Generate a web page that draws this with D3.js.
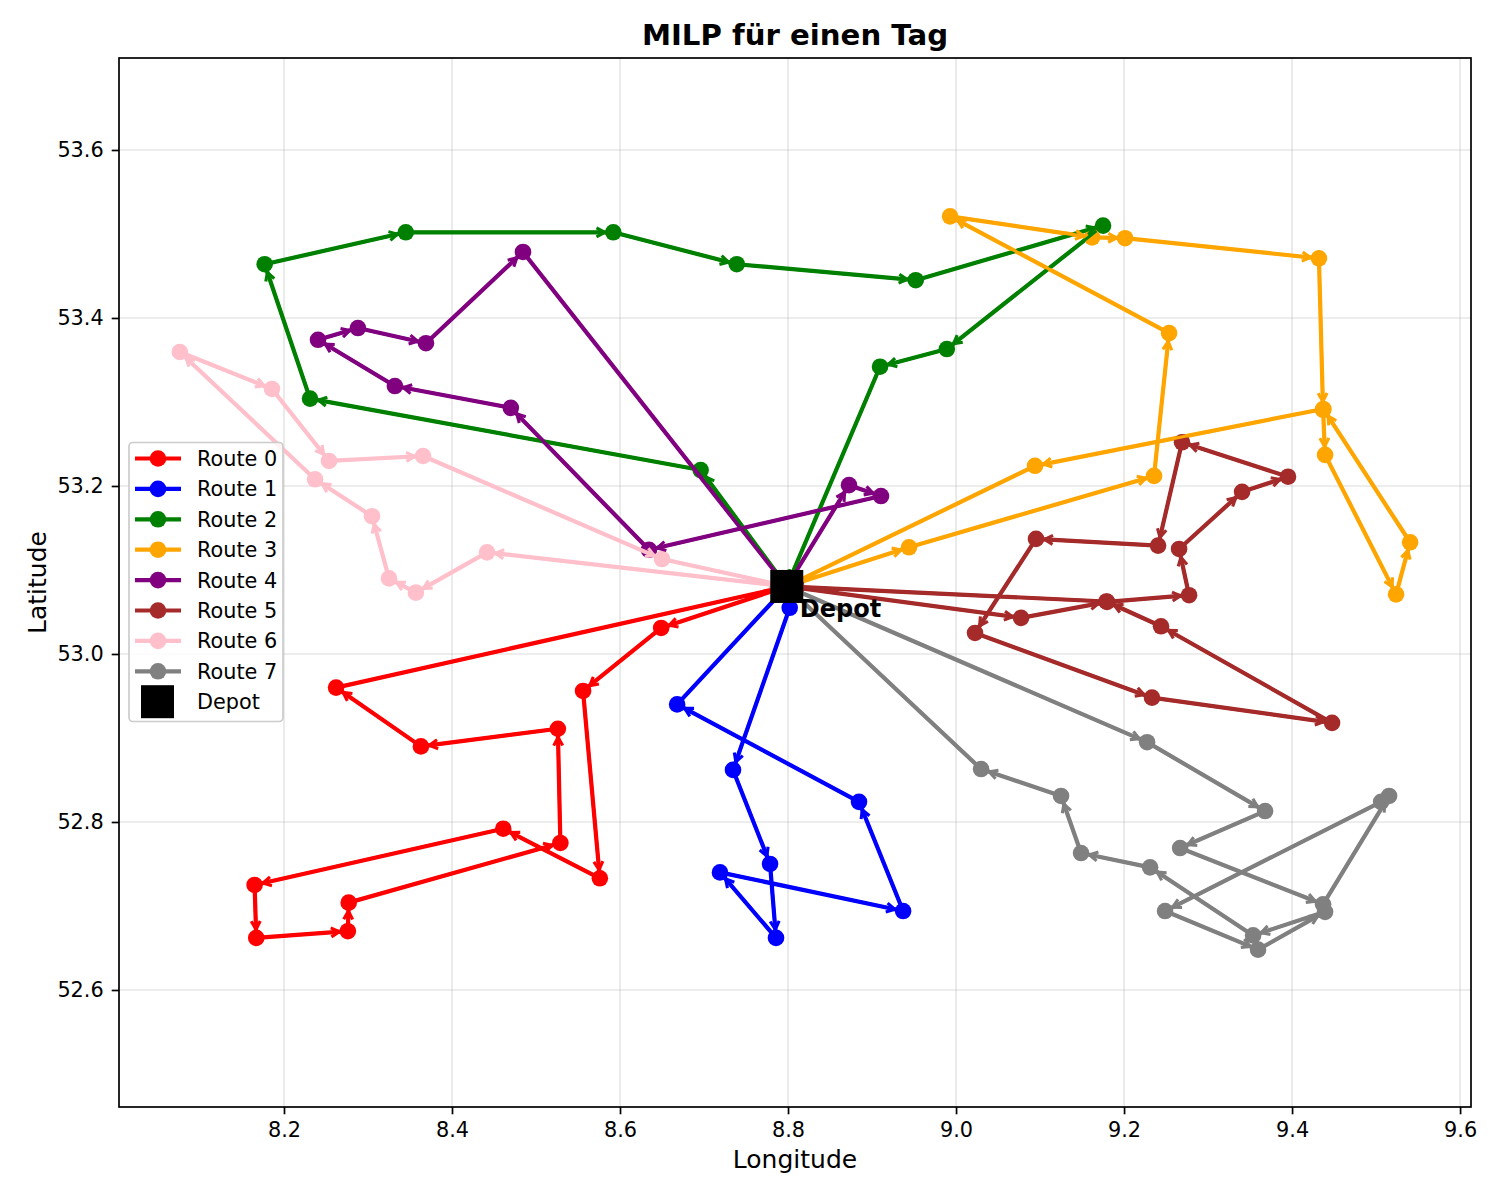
<!DOCTYPE html>
<html><head><meta charset="utf-8">
<script src="https://cdn.jsdelivr.net/npm/d3@7"></script>
<style>body{margin:0;background:#fff} text{font-family:"DejaVu Sans",sans-serif;fill:#000}</style>
</head><body><svg id="chart" width="1500" height="1200"></svg>
<script>
// ---- data (longitude, latitude) ----
const depot = [8.7985, 53.0804];
const routeNames = ["Route 0","Route 1","Route 2","Route 3","Route 4","Route 5","Route 6","Route 7"];
const routeColors = ["red","blue","green","orange","purple","brown","pink","gray"];
const route0 = [[8.649,53.031],[8.556,52.956],[8.576,52.733],[8.461,52.792],[8.165,52.725],[8.167,52.662],[8.276,52.670],[8.277,52.704],[8.529,52.775],[8.526,52.911],[8.363,52.890],[8.262,52.960]];
const route1 = [[8.802,53.055],[8.7345,52.862],[8.7786,52.750],[8.7857,52.662],[8.719,52.740],[8.937,52.694],[8.8845,52.824],[8.668,52.940]];
const route2 = [[8.696,53.219],[8.231,53.304],[8.177,53.464],[8.345,53.502],[8.592,53.502],[8.739,53.464],[8.952,53.445],[9.175,53.510],[8.989,53.363],[8.9095,53.342]];
const route3 = [[8.944,53.127],[9.2357,53.212],[9.2536,53.382],[8.9929,53.521],[9.162,53.496],[9.2012,53.495],[9.432,53.471],[9.4369,53.2905],[9.4393,53.237],[9.5238,53.071],[9.5405,53.133],[9.4372,53.2917],[9.094,53.224]];
const route4 = [[8.8726,53.201],[8.9107,53.188],[8.6345,53.124],[8.470,53.293],[8.332,53.319],[8.2405,53.374],[8.288,53.388],[8.369,53.370],[8.4845,53.4786]];
const route5 = [[9.0774,53.043],[9.1798,53.062],[9.2774,53.070],[9.2655,53.125],[9.3405,53.193],[9.3952,53.211],[9.269,53.252],[9.2405,53.129],[9.0952,53.137],[9.0226,53.025],[9.2333,52.948],[9.4476,52.918],[9.244,53.033],[9.1790,53.0625]];
const route6 = [[8.4417,53.121],[8.357,53.073],[8.325,53.090],[8.3048,53.164],[8.237,53.208],[8.076,53.3595],[8.1857,53.3155],[8.2536,53.2298],[8.3655,53.2357],[8.650,53.113]];
const route7 = [[9.2274,52.895],[9.3679,52.813],[9.2667,52.769],[9.4369,52.702],[9.5155,52.831],[9.506,52.824],[9.2488,52.694],[9.3595,52.648],[9.4393,52.693],[9.3536,52.665],[9.231,52.746],[9.1488,52.763],[9.125,52.831],[9.0298,52.863]];
const routes = [route0,route1,route2,route3,route4,route5,route6,route7];
const xTicks = [8.2,8.4,8.6,8.8,9.0,9.2,9.4,9.6];
const yTicks = [52.6,52.8,53.0,53.2,53.4,53.6];
const titleText = "MILP für einen Tag";
const xLabel = "Longitude", yLabel = "Latitude", depotLabel = "Depot";

// ---- layout ----
const L = 119, R = 1471, T = 58, B = 1107;
const x = d3.scaleLinear().domain([8.0036, 9.6130]).range([L, R]);
const y = d3.scaleLinear().domain([52.4607, 53.7095]).range([B, T]);
const svg = d3.select("#chart");
svg.append("rect").attr("width",1500).attr("height",1200).attr("fill","#fff");

// grid
const grid = svg.append("g");
grid.selectAll(".gx").data(xTicks).enter().append("line")
  .attr("x1",d=>x(d)).attr("x2",d=>x(d)).attr("y1",T).attr("y2",B)
  .attr("stroke","#b0b0b0").attr("stroke-opacity",0.3).attr("stroke-width",1.7);
grid.selectAll(".gy").data(yTicks).enter().append("line")
  .attr("y1",d=>y(d)).attr("y2",d=>y(d)).attr("x1",L).attr("x2",R)
  .attr("stroke","#b0b0b0").attr("stroke-opacity",0.3).attr("stroke-width",1.7);

const plot = svg.append("g");
const fullRoutes = routes.map(r => [depot, ...r, depot]);
const line = d3.line().x(d=>x(d[0])).y(d=>y(d[1]));
fullRoutes.forEach((r,i) => {
  const g = plot.append("g");
  g.append("path").attr("d", line(r)).attr("fill","none").attr("stroke",routeColors[i])
    .attr("stroke-width",4.2).attr("stroke-linejoin","round").attr("stroke-linecap","butt");
  g.selectAll("circle").data(r).enter().append("circle")
    .attr("cx",d=>x(d[0])).attr("cy",d=>y(d[1])).attr("r",8.3).attr("fill",routeColors[i]);
});

// arrows
const arrows = svg.append("g");
fullRoutes.forEach((r,i) => {
  for (let k=0;k<r.length-1;k++){
    const p=[x(r[k][0]),y(r[k][1])], q=[x(r[k+1][0]),y(r[k+1][1])];
    const dx=q[0]-p[0], dy=q[1]-p[1], len=Math.hypot(dx,dy);
    if (len<20) continue;
    const ux=dx/len, uy=dy/len, nx=-uy, ny=ux;
    const s=8.5, hl=8.3, hw=4.5;
    const sx=p[0]+ux*s, sy=p[1]+uy*s, tx=q[0]-ux*s, ty=q[1]-uy*s;
    const bx=tx-ux*hl, by=ty-uy*hl;
    const d=`M${sx},${sy}L${tx},${ty}M${bx+nx*hw},${by+ny*hw}L${tx},${ty}L${bx-nx*hw},${by-ny*hw}`;
    arrows.append("path").attr("d",d).attr("fill","none").attr("stroke",routeColors[i])
      .attr("stroke-width",3.1).attr("stroke-linejoin","miter");
  }
});

// depot
svg.append("rect").attr("x",x(depot[0])-16.5).attr("y",y(depot[1])-16.5)
  .attr("width",33).attr("height",33).attr("fill","#000");
svg.append("text").attr("x",x(depot[0])+13).attr("y",y(depot[1])+30.5)
  .attr("font-size",24).attr("font-weight","bold").text(depotLabel);

// frame
svg.append("rect").attr("x",L).attr("y",T).attr("width",R-L).attr("height",B-T)
  .attr("fill","none").attr("stroke","#000").attr("stroke-width",1.7);

// axes
const fmt = d3.format(".1f");
const xAxis = svg.append("g").attr("transform",`translate(0,${B})`)
  .call(d3.axisBottom(x).tickValues(xTicks).tickFormat(fmt).tickSizeInner(7.3).tickSizeOuter(0).tickPadding(7.5));
const yAxis = svg.append("g").attr("transform",`translate(${L},0)`)
  .call(d3.axisLeft(y).tickValues(yTicks).tickFormat(fmt).tickSizeInner(7.3).tickSizeOuter(0).tickPadding(8));
[xAxis,yAxis].forEach(a=>{
  a.select(".domain").remove();
  a.selectAll(".tick line").attr("stroke","#000").attr("stroke-width",1.7);
  a.selectAll(".tick text").attr("font-size",20.8).attr("font-family","DejaVu Sans").attr("fill","#000");
});

// labels
svg.append("text").attr("x",(L+R)/2).attr("y",45).attr("text-anchor","middle")
  .attr("font-size",29.2).attr("font-weight","bold").text(titleText);
svg.append("text").attr("x",(L+R)/2).attr("y",1168).attr("text-anchor","middle")
  .attr("font-size",25).text(xLabel);
svg.append("text").attr("transform",`translate(46,${(T+B)/2}) rotate(-90)`).attr("text-anchor","middle")
  .attr("font-size",25).text(yLabel);

// legend
const lg = svg.append("g");
lg.append("rect").attr("x",129).attr("y",442.5).attr("width",154).attr("height",279)
  .attr("rx",4).attr("fill","#fff").attr("fill-opacity",0.8).attr("stroke","#cccccc").attr("stroke-width",1.7);
const rowY = i => 458.5 + i*30.4;
routeNames.forEach((n,i)=>{
  lg.append("line").attr("x1",135).attr("x2",181).attr("y1",rowY(i)).attr("y2",rowY(i))
    .attr("stroke",routeColors[i]).attr("stroke-width",4.2);
  lg.append("circle").attr("cx",158).attr("cy",rowY(i)).attr("r",8.3).attr("fill",routeColors[i]);
  lg.append("text").attr("x",197).attr("y",rowY(i)+7.5).attr("font-size",20.8).text(n);
});
const di = routeNames.length;
lg.append("rect").attr("x",141).attr("y",rowY(di)-16.5).attr("width",33).attr("height",33).attr("fill","#000");
lg.append("text").attr("x",197).attr("y",rowY(di)+7.5).attr("font-size",20.8).text(depotLabel);
</script></body></html>
